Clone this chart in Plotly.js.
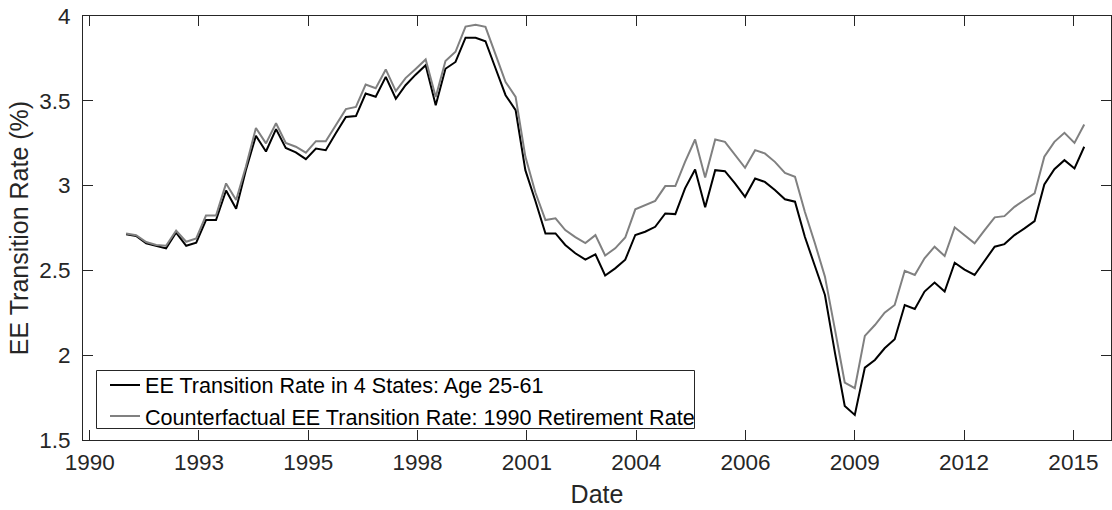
<!DOCTYPE html>
<html>
<head>
<meta charset="utf-8">
<script src="https://cdn.plot.ly/plotly-3.0.1.min.js"></script>
<style>html,body{margin:0;padding:0;background:#fff;}#chart{width:1112px;height:510px;}</style>
</head>
<body>
<div id="chart"></div>
<script>
// Quarterly observations, 1991Q2 .. 2015Q2 (mid-quarter dates)
const firstYear = 1991, firstMonth = 5, nObs = 97;
const dates = [];
for (let i = 0; i < nObs; i++) {
  const m0 = (firstMonth - 1) + 3 * i;
  const y = firstYear + Math.floor(m0 / 12);
  const m = (m0 % 12) + 1;
  dates.push(y + '-' + String(m).padStart(2, '0') + '-15');
}

const eeRate = [
  2.713, 2.703, 2.660, 2.644, 2.630, 2.723, 2.645, 2.663, 2.797, 2.797,
  2.971, 2.863, 3.091, 3.294, 3.201, 3.333, 3.222, 3.196, 3.156, 3.219,
  3.209, 3.309, 3.405, 3.410, 3.543, 3.524, 3.641, 3.512, 3.592, 3.654,
  3.710, 3.474, 3.689, 3.729, 3.872, 3.872, 3.851, 3.692, 3.533, 3.445,
  3.091, 2.909, 2.717, 2.718, 2.650, 2.601, 2.564, 2.595, 2.470, 2.512,
  2.563, 2.709, 2.728, 2.757, 2.836, 2.832, 2.984, 3.095, 2.872, 3.091,
  3.085, 3.013, 2.934, 3.042, 3.022, 2.974, 2.919, 2.905, 2.698, 2.526,
  2.355, 2.012, 1.701, 1.648, 1.927, 1.972, 2.041, 2.094, 2.296, 2.273,
  2.375, 2.428, 2.375, 2.545, 2.505, 2.473, 2.557, 2.640, 2.655, 2.708,
  2.748, 2.791, 3.007, 3.097, 3.150, 3.101, 3.229
];

const eeCounterfactual = [
  2.718, 2.707, 2.667, 2.650, 2.645, 2.734, 2.669, 2.689, 2.823, 2.823,
  3.013, 2.915, 3.111, 3.340, 3.249, 3.368, 3.252, 3.229, 3.194, 3.262,
  3.262, 3.356, 3.451, 3.464, 3.596, 3.574, 3.685, 3.557, 3.634, 3.688,
  3.744, 3.523, 3.735, 3.789, 3.938, 3.949, 3.936, 3.774, 3.611, 3.523,
  3.171, 2.959, 2.797, 2.807, 2.738, 2.696, 2.661, 2.708, 2.588, 2.630,
  2.694, 2.860, 2.885, 2.910, 2.997, 2.997, 3.140, 3.272, 3.048, 3.272,
  3.258, 3.180, 3.105, 3.209, 3.190, 3.140, 3.075, 3.052, 2.846, 2.660,
  2.463, 2.149, 1.839, 1.806, 2.114, 2.178, 2.251, 2.296, 2.498, 2.473,
  2.571, 2.640, 2.585, 2.754, 2.707, 2.660, 2.738, 2.813, 2.820, 2.875,
  2.915, 2.954, 3.170, 3.258, 3.311, 3.252, 3.360
];

const seriesNames = [
  'EE Transition Rate in 4 States: Age 25-61',
  'Counterfactual EE Transition Rate: 1990 Retirement Rate'
];

// MATLAB datetick positions (every 1000 days) and their labels
const xTickDates = ['1990-06-16','1993-03-12','1995-12-07','1998-09-02','2001-05-29',
                    '2004-02-23','2006-11-19','2009-08-15','2012-05-11','2015-02-05'];
const xTickLabels = ['1990','1993','1995','1998','2001','2004','2006','2009','2012','2015'];
const yTickVals = [1.5, 2, 2.5, 3, 3.5, 4];
const yTickLabels = ['1.5','2','2.5','3','3.5','4'];

const axisColor = '#262626';
const fontFam = '"Liberation Sans", Arial, Helvetica, sans-serif';

const traces = [
  {x: dates, y: eeRate, type: 'scatter', mode: 'lines', name: seriesNames[0],
   line: {color: '#000000', width: 2}},
  {x: dates, y: eeCounterfactual, type: 'scatter', mode: 'lines', name: seriesNames[1],
   line: {color: '#808080', width: 2}}
];

// legend frame (paper coordinates)
const W = 1112, H = 510, mL = 83, mR = 1, mT = 16, mB = 70;
const pw = W - mL - mR, ph = H - mT - mB;
const px = v => (v - mL) / pw;
const py = v => (H - mB - v) / ph;

const layout = {
  width: W, height: H,
  margin: {l: mL, r: mR, t: mT, b: mB, pad: 0},
  paper_bgcolor: '#ffffff', plot_bgcolor: '#ffffff',
  font: {family: fontFam, color: axisColor},
  showlegend: true,
  legend: {
    x: px(105), y: py(364.5), xanchor: 'left', yanchor: 'top',
    bgcolor: 'rgba(0,0,0,0)', borderwidth: 0,
    font: {family: fontFam, size: 21.6, color: '#000000'},
    tracegroupgap: 0
  },
  shapes: [{
    type: 'rect', xref: 'paper', yref: 'paper',
    x0: px(96.5), x1: px(694.5), y0: py(370.5), y1: py(428.5),
    line: {color: axisColor, width: 1}, fillcolor: '#ffffff', layer: 'below'
  }],
  xaxis: {
    type: 'date',
    range: ['1990-04-16', '2016-01-15'],
    tickmode: 'array', tickvals: xTickDates, ticktext: xTickLabels,
    ticks: 'inside', ticklen: 10, tickwidth: 1, tickcolor: axisColor,
    showline: true, linecolor: axisColor, linewidth: 1, mirror: 'ticks',
    showgrid: false, zeroline: false,
    tickfont: {family: fontFam, size: 22.5, color: axisColor},
    ticklabelstandoff: 2,
    title: {text: 'Date', font: {family: fontFam, size: 25, color: axisColor}, standoff: 11}
  },
  yaxis: {
    range: [1.5, 4],
    tickmode: 'array', tickvals: yTickVals, ticktext: yTickLabels,
    ticks: 'inside', ticklen: 10, tickwidth: 1, tickcolor: axisColor,
    showline: true, linecolor: axisColor, linewidth: 1, mirror: 'ticks',
    showgrid: false, zeroline: false,
    tickfont: {family: fontFam, size: 22.5, color: axisColor},
    ticklabelstandoff: 7,
    title: {text: 'EE Transition Rate (%)', font: {family: fontFam, size: 25, color: axisColor}, standoff: 3}
  }
};

Plotly.newPlot('chart', traces, layout, {displayModeBar: false, staticPlot: true});
</script>
</body>
</html>
